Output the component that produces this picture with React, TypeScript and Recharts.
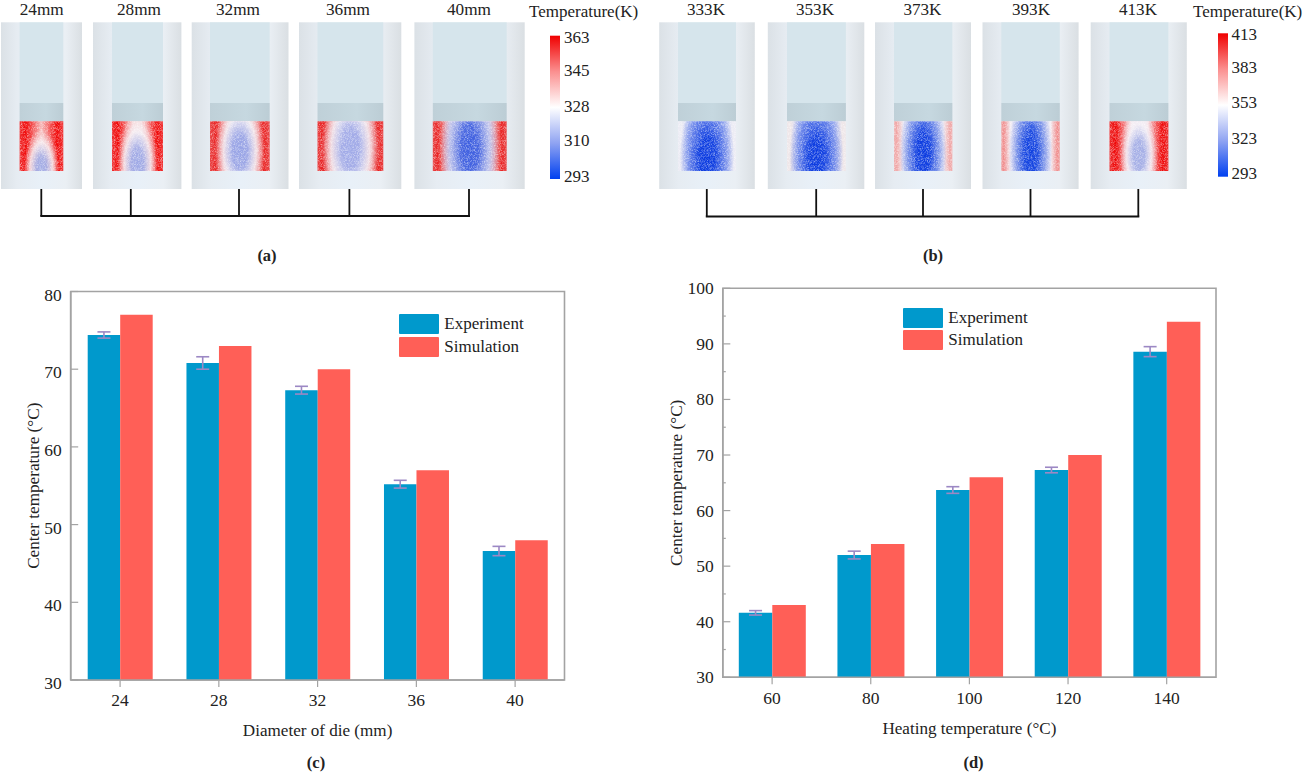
import React from 'react';
import { BarChart, Bar, XAxis, YAxis, ErrorBar, Legend, ReferenceArea } from 'recharts';

// ---------- data ----------
const diameterCats = ['24', '28', '32', '36', '40'];
const diameterExp = [74.4, 70.8, 67.3, 55.2, 46.6];
const diameterSim = [77, 73, 70, 57, 48];
const diameterErr = [0.4, 0.8, 0.5, 0.5, 0.6];

const heatingCats = ['60', '80', '100', '120', '140'];
const heatingExp = [41.6, 52, 63.7, 67.3, 88.6];
const heatingSim = [43, 54, 66, 70, 94];
const heatingErr = [0.4, 0.7, 0.6, 0.5, 0.9];

const diameterTicks = [30, 40, 50, 60, 70, 80];
const heatingTicks = [30, 35, 40, 45, 50, 55, 60, 65, 70, 75, 80, 85, 90, 95, 100];

const panelALabels = ['24mm', '28mm', '32mm', '36mm', '40mm'];
const panelBLabels = ['333K', '353K', '373K', '393K', '413K'];
const scaleALabels = ['363', '345', '328', '310', '293'];
const scaleBLabels = ['413', '383', '353', '323', '293'];

const diameterRows = diameterCats.map((c, i) => ({ c, Experiment: diameterExp[i], Simulation: diameterSim[i], err: diameterErr[i] }));
const heatingRows = heatingCats.map((c, i) => ({ c, Experiment: heatingExp[i], Simulation: heatingSim[i], err: heatingErr[i] }));

// ---------- style / layout ----------
const FONT = '"Liberation Serif", "Times New Roman", serif';
const TXT = '#222';
const BLUE = '#0099cc';
const RED = '#ff5f57';
const FRAME = '#a3a3a3';
const ERR = '#9c88c4';

// outer x0,x1, inner x0,x1, label centre, stem x
const layoutA = [
  [1, 82, 19.6, 63.3, 41.7, 41.3],
  [93, 181.4, 112, 163, 139, 130.8],
  [191.7, 288.5, 210, 269.7, 238, 239],
  [299, 401.3, 317.5, 383.3, 348, 349.4],
  [414.4, 524.7, 432.8, 506.7, 469, 469],
];
const layoutB = [
  [659.2, 754.8, 678, 736, 706, 706.8],
  [767.8, 864.3, 787, 845.9, 815, 816.2],
  [875, 971, 894, 952.4, 922.4, 923],
  [982.5, 1078.6, 1001.3, 1059.8, 1031, 1030.5],
  [1090.7, 1186.8, 1109.5, 1168.4, 1138, 1138.3],
];
const scaleYA = [37, 70, 106, 140, 176];
const scaleYB = [34, 67, 102, 138, 173];
// thermal zone look: edge, fade position, mid colour, core, halo, core cy, rx, ry
const looksA = [
  ['#f00808', 0.5, '#f6b8b8', '#a4aee6', '#f6f0f4', 0.95, 0.4, 0.8],
  ['#f00808', 0.42, '#f8d4d4', '#a0aae6', '#f4f0f6', 0.85, 0.4, 1.0],
  ['#e92222', 0.36, '#fae0e0', '#98a4e6', '#f0eef6', 0.6, 0.42, 1.1],
  ['#e81818', 0.34, '#fae0e0', '#a0aae8', '#f0eef6', 0.55, 0.45, 1.3],
  ['#e82222', 0.24, '#fbe6e6', '#3e5fe0', '#a8b4ec', 0.55, 0.4, 1.5],
];
const looksB = [
  ['#ecebf4', 0.24, '#c4cef4', '#0a3ae0', '#5a78e8', 0.72, 0.47, 1.35],
  ['#efe6e8', 0.22, '#c8d0f4', '#0a3ae0', '#5a78e8', 0.72, 0.46, 1.35],
  ['#f0a4a4', 0.16, '#f2eef4', '#0a3ae0', '#6482e8', 0.65, 0.4, 1.4],
  ['#f08c8c', 0.16, '#f4eef4', '#0f40e0', '#6c88e8', 0.65, 0.37, 1.4],
  ['#ee0606', 0.38, '#f8eaee', '#a4aee6', '#f2eef6', 0.68, 0.32, 0.95],
];

const ticksFor = (right: number, offset: number) => (p: any) => {
  const v = p.payload.value;
  const major = v % 10 === 0;
  return (
    <g>
      <line x1={p.x} x2={p.x + (major ? 7.5 : 3)} y1={p.y} y2={p.y} stroke={FRAME} strokeWidth={1.2} />
      {major && (
        <text x={p.x - right} y={p.y + offset} textAnchor="end" dominantBaseline="central" fontFamily={FONT} fontSize={17.5} fill={TXT}>{v}</text>
      )}
    </g>
  );
};

const LegendBox = ({ payload }: any) => (
  <div style={{ fontFamily: FONT, fontSize: 17, color: TXT }}>
    {(payload || []).map((e: any, i: number) => (
      <div key={e.value} style={{ display: 'flex', alignItems: 'center', height: 20, marginBottom: i === 0 ? 2.4 : 0 }}>
        <span style={{ width: 40, height: 20, background: e.color, borderRadius: 1, display: 'inline-block', marginRight: 5 }} />
        <span style={{ whiteSpace: 'nowrap' }}>{e.value}</span>
      </div>
    ))}
  </div>
);

function Chart({ rows, ticks, domain, xLabel, left, top, width, height, margin, barSize, legendPos, tickOffset, labelDx, xLabelOffset }: any) {
  return (
    <div style={{ position: 'absolute', left, top }}>
      <BarChart width={width} height={height} data={rows} margin={margin} barSize={barSize} barGap={0}>
        <ReferenceArea y1={domain[0]} y2={domain[1]} fill="none" stroke={FRAME} strokeWidth={1.6} ifOverflow="visible" />
        <XAxis
          dataKey="c"
          height={margin.xh}
          tickSize={7}
          tickMargin={7}
          axisLine={{ stroke: FRAME, strokeWidth: 1.6 }}
          tickLine={{ stroke: FRAME, strokeWidth: 1.2 }}
          tick={{ fontFamily: FONT, fontSize: 17.5, fill: TXT }}
          label={{ value: xLabel, position: 'insideBottom', offset: xLabelOffset, fontFamily: FONT, fontSize: 17.1, fill: TXT }}
        />
        <YAxis
          type="number"
          width={margin.yw}
          domain={domain}
          ticks={ticks}
          interval={0}
          axisLine={{ stroke: FRAME, strokeWidth: 1.6 }}
          tickLine={false}
          tickSize={0}
          tickMargin={0}
          tick={ticksFor(9, tickOffset)}
          label={{ value: 'Center temperature (°C)', angle: -90, position: 'center', dx: labelDx, fontFamily: FONT, fontSize: 17.2, fill: TXT }}
        />
        <Legend layout="vertical" align="center" verticalAlign="middle" content={<LegendBox />} wrapperStyle={{ ...legendPos, width: 130 }} />
        <Bar dataKey="Experiment" fill={BLUE} isAnimationActive={false}>
          <ErrorBar dataKey="err" direction="y" width={6.5} stroke={ERR} strokeWidth={1.6} isAnimationActive={false} />
        </Bar>
        <Bar dataKey="Simulation" fill={RED} isAnimationActive={false} />
      </BarChart>
    </div>
  );
}

function Thumb({ id, g, look, label, yLabel }: any) {
  const [x0, x1, ix0, ix1, lc] = g;
  const [edge, fade, mid, core, halo, cy, rx, ry] = look;
  const Y0 = 22.3, Y1 = 189, BAND = 103, HOT = 121.3, HOTB = 171;
  const f = fade as number;
  return (
    <g>
      <defs>
        <linearGradient id={`${id}o`} x1="0" x2="1" y1="0" y2="0">
          <stop offset="0" stopColor="#dbe1e6" />
          <stop offset="0.2" stopColor="#e6ecf2" />
          <stop offset="0.5" stopColor="#e8f0f8" />
          <stop offset="0.8" stopColor="#eaeff4" />
          <stop offset="1" stopColor="#dadfe3" />
        </linearGradient>
        <linearGradient id={`${id}c`} x1="0" x2="1" y1="0" y2="0">
          <stop offset="0" stopColor="#bfd0d8" />
          <stop offset="0.6" stopColor="#c6d8e0" />
          <stop offset="1" stopColor="#bccdd5" />
        </linearGradient>
        <linearGradient id={`${id}h`} x1="0" x2="1" y1="0" y2="0">
          <stop offset="0" stopColor={edge} stopOpacity={0.82} />
          <stop offset={f * 0.28} stopColor={edge} />
          <stop offset={f} stopColor={mid} />
          <stop offset={1 - f} stopColor={mid} />
          <stop offset={1 - f * 0.28} stopColor={edge} />
          <stop offset="1" stopColor={edge} stopOpacity={0.82} />
        </linearGradient>
        <radialGradient id={`${id}r`} cx="0.5" cy={cy} r="0.5" gradientTransform={`translate(0.5 ${cy}) scale(${rx * 2} ${ry * 2}) translate(-0.5 ${-cy})`}>
          <stop offset="0" stopColor={core} />
          <stop offset="0.3" stopColor={core} stopOpacity={0.95} />
          <stop offset="0.65" stopColor={halo} stopOpacity={0.85} />
          <stop offset="1" stopColor={halo} stopOpacity={0} />
        </radialGradient>
      </defs>
      <rect x={x0} y={Y0} width={x1 - x0} height={Y1 - Y0} fill={`url(#${id}o)`} />
      <rect x={ix0} y={Y0} width={ix1 - ix0} height={BAND - Y0} fill="#d6e5ec" />
      <rect x={ix0} y={BAND} width={ix1 - ix0} height={HOT - BAND} fill={`url(#${id}c)`} />
      <rect x={ix0} y={HOT} width={ix1 - ix0} height={HOTB - HOT} fill={`url(#${id}h)`} />
      <rect x={ix0} y={HOT} width={ix1 - ix0} height={HOTB - HOT} fill={`url(#${id}r)`} />
      <rect x={ix0} y={HOT} width={ix1 - ix0} height={HOTB - HOT} fill="#fff" filter="url(#speckle)" opacity={0.55} />
      <text x={lc} y={yLabel} textAnchor="middle" textLength={label.endsWith('mm') ? 44 : 38} lengthAdjust="spacingAndGlyphs" fontFamily={FONT} fontSize={16} fill={TXT}>{label}</text>
    </g>
  );
}

function Panel({ prefix, labels, layout, looks, scale, scaleY, barX, barY0, barY1, titleX, scaleX, caption, captionX, bracketY }: any) {
  return (
    <g>
      <defs>
        <linearGradient id={`${prefix}bar`} x1="0" x2="0" y1="0" y2="1">
          <stop offset="0" stopColor="#f00000" />
          <stop offset="0.25" stopColor="#fb8f8f" />
          <stop offset="0.5" stopColor="#ffffff" />
          <stop offset="0.75" stopColor="#8fa3f2" />
          <stop offset="1" stopColor="#0040f0" />
        </linearGradient>
      </defs>
      {labels.map((l: string, i: number) => (
        <Thumb key={l} id={`${prefix}${i}`} g={layout[i]} look={looks[i]} label={l} yLabel={15} />
      ))}
      {layout.map((g: number[], i: number) => (
        <line key={i} x1={g[5]} x2={g[5]} y1={189} y2={bracketY} stroke="#111" strokeWidth={1.8} />
      ))}
      <line x1={layout[0][5] - 1} x2={layout[4][5] + 1} y1={bracketY} y2={bracketY} stroke="#111" strokeWidth={1.8} />
      <rect x={barX} y={barY0} width={10} height={barY1 - barY0} fill={`url(#${prefix}bar)`} />
      <text x={titleX} y={17} fontFamily={FONT} fontSize={17} fill={TXT}>Temperature(K)</text>
      {scale.map((s: string, i: number) => (
        <text key={s} x={scaleX} y={scaleY[i]} dominantBaseline="central" fontFamily={FONT} fontSize={17} fill={TXT}>{s}</text>
      ))}
      <text x={captionX} y={261} textAnchor="middle" fontFamily={FONT} fontSize={16.5} fontWeight="bold" fill={TXT}>{caption}</text>
    </g>
  );
}

export default function App() {
  return (
    <div style={{ position: 'absolute', left: 0, top: 0, width: 1304, height: 772, background: '#fff', overflow: 'hidden' }}>
      <svg width={1304} height={772} style={{ position: 'absolute', left: 0, top: 0 }}>
        <defs>
          <filter id="speckle" x="0" y="0" width="1" height="1" colorInterpolationFilters="sRGB">
            <feTurbulence type="fractalNoise" baseFrequency="1.7" numOctaves="1" seed="4" result="n" />
            <feColorMatrix in="n" type="matrix" values="0 0 0 0 1  0 0 0 0 1  0 0 0 0 1  2.5 0 0 0 -1.05" result="w" />
            <feComposite in="w" in2="SourceGraphic" operator="in" />
          </filter>
        </defs>
        <Panel prefix="a" labels={panelALabels} layout={layoutA} looks={looksA} scale={scaleALabels} scaleY={scaleYA} barX={550} barY0={35.7} barY1={179} titleX={529} scaleX={564} caption="(a)" captionX={267} bracketY={216} />
        <Panel prefix="b" labels={panelBLabels} layout={layoutB} looks={looksB} scale={scaleBLabels} scaleY={scaleYB} barX={1218} barY0={33.3} barY1={176.7} titleX={1193} scaleX={1231.5} caption="(b)" captionX={933} bracketY={216.5} />
        <text x={316} y={767.5} textAnchor="middle" fontFamily={FONT} fontSize={16.5} fontWeight="bold" fill={TXT}>(c)</text>
        <text x={973.5} y={767.5} textAnchor="middle" fontFamily={FONT} fontSize={16.5} fontWeight="bold" fill={TXT}>(d)</text>
      </svg>
      <Chart
        rows={diameterRows}
        ticks={diameterTicks}
        domain={[30, 80]}
        xLabel="Diameter of die (mm)"
        left={0}
        top={270}
        width={640}
        height={470}
        margin={{ left: 20.7, right: 75.5, top: 21.5, bottom: 0, yw: 50, xh: 60 }}
        barSize={32.5}
        legendPos={{ left: 399.3, top: 44.3 }}
        tickOffset={3}
        labelDx={-13}
        xLabelOffset={4}
      />
      <Chart
        rows={heatingRows}
        ticks={heatingTicks}
        domain={[30, 100]}
        xLabel="Heating temperature (°C)"
        left={650}
        top={270}
        width={640}
        height={470}
        margin={{ left: 22.8, right: 74, top: 18.3, bottom: 0, yw: 50, xh: 62.7 }}
        barSize={33.5}
        legendPos={{ left: 253.3, top: 37.7 }}
        tickOffset={0}
        labelDx={-22}
        xLabelOffset={6}
      />
    </div>
  );
}
